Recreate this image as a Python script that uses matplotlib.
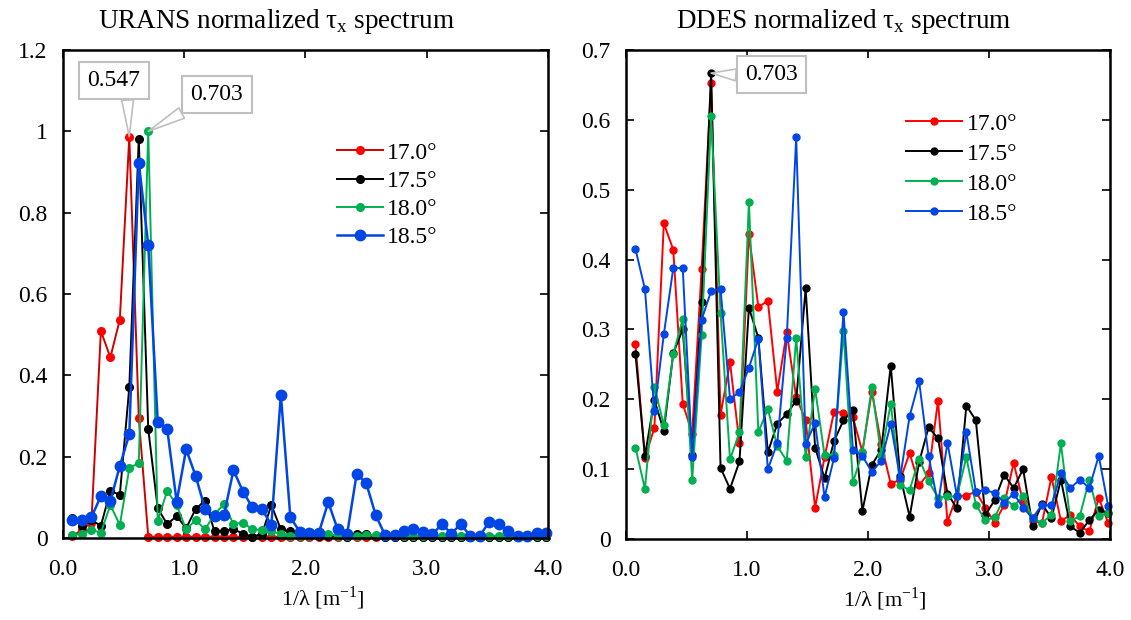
import numpy as np
import matplotlib
matplotlib.use('Agg')
import matplotlib.pyplot as plt

plt.rcParams['font.family'] = ['Liberation Serif', 'DejaVu Serif']

# wavenumber grid 1/lambda [1/m]
freq = np.arange(1, 52) / 12.8

angles = ['17.0°', '17.5°', '18.0°', '18.5°']

# URANS normalized spectra
urans_170 = [0.005, 0.02, 0.038, 0.509, 0.444, 0.537, 0.987, 0.296, 0.003, 0.003,
             0.003, 0.003, 0.003, 0.003, 0.003, 0.003, 0.003, 0.003, 0.003, 0.003,
             0.003, 0.003, 0.003, 0.003, 0.003, 0.003, 0.003, 0.003, 0.003, 0.003,
             0.003, 0.003, 0.003, 0.003, 0.003, 0.003, 0.003, 0.003, 0.003, 0.003,
             0.003, 0.003, 0.003, 0.003, 0.003, 0.003, 0.003, 0.003, 0.003, 0.003, 0.003]
urans_175 = [0.048, 0.03, 0.044, 0.03, 0.116, 0.106, 0.371, 0.981, 0.268, 0.073,
             0.034, 0.054, 0.024, 0.071, 0.092, 0.016, 0.018, 0.021, 0.011, 0.003,
             0.01, 0.081, 0.021, 0.016, 0.006, 0.005, 0.004, 0.005, 0.004, 0.003,
             0.011, 0.011, 0.004, 0.003, 0.003, 0.003, 0.003, 0.003, 0.003, 0.003,
             0.003, 0.003, 0.003, 0.003, 0.003, 0.003, 0.003, 0.003, 0.003, 0.003, 0.003]
urans_180 = [0.007, 0.01, 0.02, 0.013, 0.081, 0.032, 0.171, 0.185, 1.0, 0.042,
             0.116, 0.081, 0.021, 0.044, 0.021, 0.059, 0.083, 0.034, 0.038, 0.021,
             0.02, 0.016, 0.01, 0.005, 0.004, 0.006, 0.008, 0.010, 0.005, 0.004,
             0.006, 0.008, 0.007, 0.004, 0.005, 0.006, 0.005, 0.004, 0.005, 0.006,
             0.004, 0.006, 0.004, 0.003, 0.006, 0.005, 0.004, 0.003, 0.004, 0.005, 0.004]
urans_185 = [0.044, 0.043, 0.051, 0.103, 0.091, 0.177, 0.255, 0.923, 0.721, 0.286,
             0.268, 0.089, 0.218, 0.153, 0.071, 0.054, 0.057, 0.167, 0.114, 0.075,
             0.071, 0.032, 0.352, 0.051, 0.015, 0.012, 0.012, 0.088, 0.021, 0.010,
             0.157, 0.136, 0.057, 0.007, 0.007, 0.017, 0.021, 0.014, 0.009, 0.034,
             0.011, 0.034, 0.005, 0.005, 0.040, 0.034, 0.018, 0.005, 0.005, 0.013, 0.013]

# DDES normalized spectra
ddes_170 = [0.279, 0.116, 0.159, 0.452, 0.414, 0.194, 0.151, 0.387, 0.653, 0.178,
            0.253, 0.137, 0.436, 0.332, 0.341, 0.211, 0.296, 0.203, 0.170, 0.045,
            0.117, 0.182, 0.181, 0.174, 0.125, 0.211, 0.136, 0.079, 0.085, 0.123,
            0.077, 0.094, 0.198, 0.025, 0.062, 0.062, 0.068, 0.045, 0.023, 0.049,
            0.109, 0.053, 0.026, 0.023, 0.089, 0.026, 0.034, 0.018, 0.011, 0.059, 0.023]
ddes_175 = [0.265, 0.119, 0.199, 0.155, 0.266, 0.300, 0.120, 0.340, 0.667, 0.102,
            0.072, 0.111, 0.331, 0.288, 0.124, 0.165, 0.179, 0.198, 0.359, 0.131,
            0.087, 0.140, 0.170, 0.184, 0.040, 0.106, 0.128, 0.248, 0.090, 0.032,
            0.110, 0.160, 0.144, 0.065, 0.044, 0.191, 0.170, 0.034, 0.056, 0.092,
            0.073, 0.100, 0.019, 0.050, 0.030, 0.085, 0.018, 0.009, 0.027, 0.042, 0.037]
ddes_180 = [0.131, 0.072, 0.218, 0.163, 0.265, 0.315, 0.085, 0.292, 0.605, 0.324,
            0.114, 0.153, 0.482, 0.153, 0.186, 0.133, 0.112, 0.288, 0.117, 0.215,
            0.120, 0.121, 0.298, 0.081, 0.124, 0.217, 0.120, 0.194, 0.077, 0.070,
            0.115, 0.083, 0.059, 0.061, 0.061, 0.117, 0.049, 0.027, 0.031, 0.059,
            0.047, 0.061, 0.030, 0.023, 0.035, 0.137, 0.026, 0.033, 0.085, 0.033, 0.037]
ddes_185 = [0.415, 0.358, 0.183, 0.293, 0.388, 0.388, 0.118, 0.314, 0.355, 0.358,
            0.201, 0.210, 0.245, 0.287, 0.100, 0.137, 0.288, 0.575, 0.136, 0.166,
            0.060, 0.116, 0.325, 0.127, 0.119, 0.096, 0.112, 0.165, 0.088, 0.176,
            0.226, 0.119, 0.050, 0.138, 0.062, 0.153, 0.068, 0.070, 0.066, 0.052,
            0.065, 0.045, 0.030, 0.049, 0.048, 0.094, 0.073, 0.085, 0.073, 0.119, 0.047]

xticks = [0, 1, 2, 3, 4]
xticklabels = ['0.0', '1.0', '2.0', '3.0', '4.0']
urans_yticks = [0, 0.2, 0.4, 0.6, 0.8, 1.0, 1.2]
urans_yticklabels = ['0', '0.2', '0.4', '0.6', '0.8', '1', '1.2']
ddes_yticks = [0, 0.1, 0.2, 0.3, 0.4, 0.5, 0.6, 0.7]
ddes_yticklabels = ['0', '0.1', '0.2', '0.3', '0.4', '0.5', '0.6', '0.7']

red, black, green, blue = '#FF0000', '#000000', '#00B050', '#0046E6'

fig = plt.figure(figsize=(11.31, 6.2), dpi=100)
ax1 = fig.add_axes([0.0557, 0.1323, 0.4288, 0.7871])
ax2 = fig.add_axes([0.5535, 0.1306, 0.4280, 0.7887])

# URANS panel
ax1.plot(freq, urans_170, color='#D00000', mfc=red, mec=red, marker='o', ms=5.5, lw=1.4, label=angles[0], clip_on=False)
ax1.plot(freq, urans_175, color=black, marker='o', ms=5.5, lw=1.4, label=angles[1], clip_on=False)
ax1.plot(freq, urans_180, color=green, marker='o', ms=5.5, lw=1.4, label=angles[2], clip_on=False)
ax1.plot(freq, urans_185, color=blue, marker='o', ms=7.5, lw=1.8, label=angles[3], clip_on=False)

# DDES panel
ax2.plot(freq, ddes_170, color=red, marker='o', ms=5, lw=1.4, label=angles[0], clip_on=False)
ax2.plot(freq, ddes_175, color=black, marker='o', ms=5, lw=1.4, label=angles[1], clip_on=False)
ax2.plot(freq, ddes_180, color=green, marker='o', ms=5, lw=1.4, label=angles[2], clip_on=False)
ax2.plot(freq, ddes_185, color=blue, marker='o', ms=5, lw=1.4, label=angles[3], clip_on=False)

for ax, yt, ytl, ymax in [(ax1, urans_yticks, urans_yticklabels, 1.2),
                          (ax2, ddes_yticks, ddes_yticklabels, 0.7)]:
    ax.set_xlim(0, 4)
    ax.set_ylim(0, ymax)
    ax.set_xticks(xticks)
    ax.set_xticklabels(xticklabels)
    ax.set_yticks(yt)
    ax.set_yticklabels(ytl)
    ax.tick_params(direction='in', top=True, right=True, length=6, width=1.2,
                   labelsize=17)
    ax.tick_params(axis='y', pad=11)
    ax.tick_params(axis='x', pad=15)
    for s in ax.spines.values():
        s.set_linewidth(1.8)
    ax.set_xlabel(r'1/λ [m$^{\mathregular{-1}}$]', fontsize=16, labelpad=5)
    ax.xaxis.set_label_coords(0.535, -0.095)

ax1.set_title(r'URANS normalized τ$_{\mathregular{x}}$ spectrum', fontsize=19.5, x=0.44, pad=16)
ax2.set_title(r'DDES normalized τ$_{\mathregular{x}}$ spectrum', fontsize=19.5, x=0.45, pad=16)

ax1.legend(loc='upper left', bbox_to_anchor=(0.53, 0.845), frameon=False, fontsize=17,
           handlelength=1.95, handletextpad=0.2, labelspacing=0.28, borderpad=0.2)
ax2.legend(loc='upper left', bbox_to_anchor=(0.545, 0.905), frameon=False, fontsize=17,
           handlelength=2.35, handletextpad=0.2, labelspacing=0.36, borderpad=0.2)

box = dict(boxstyle='square,pad=0.35', fc='white', ec='#BFBFBF', lw=1.5)


def callout(ax, text, xy, xytext, relpos):
    ax.annotate(text, xy=xy, xytext=xytext, fontsize=17, ha='center', va='center',
                bbox=box, annotation_clip=False,
                arrowprops=dict(arrowstyle='wedge,tail_width=0.5', fc='white',
                                ec='#BFBFBF', lw=1.2, relpos=relpos,
                                shrinkA=0, shrinkB=0))


callout(ax1, '0.547', (freq[6], urans_170[6]), (0.42, 1.125), (0.75, 0.0))
callout(ax1, '0.703', (freq[8], urans_180[8]), (1.27, 1.09), (0.1, 0.0))
callout(ax2, '0.703', (freq[8], ddes_175[8]), (1.20, 0.665), (0.0, 0.45))

fig.savefig('out.png', dpi=100)
